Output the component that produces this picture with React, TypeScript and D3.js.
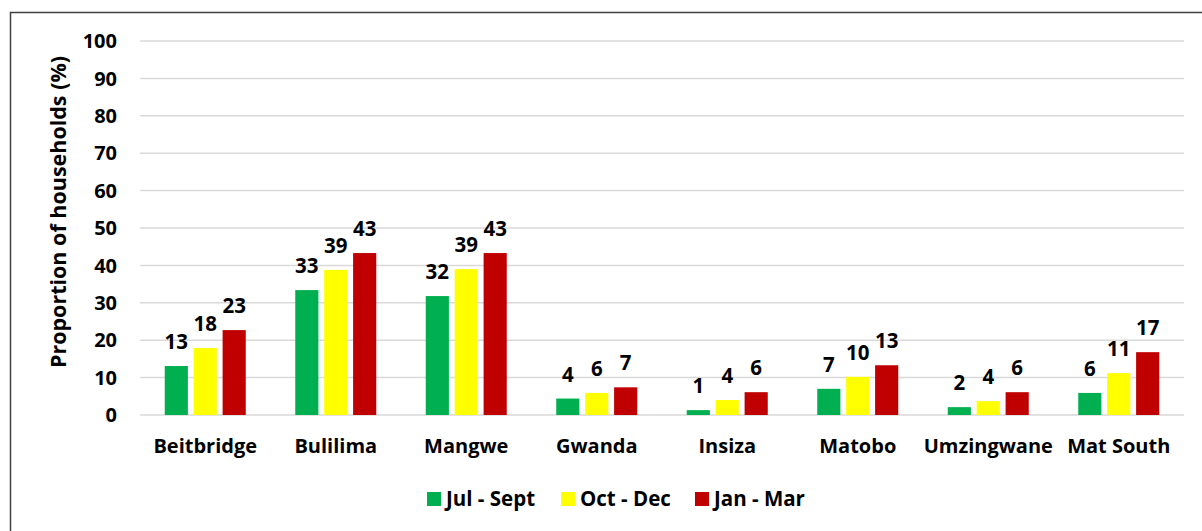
import React, { useEffect, useRef } from 'react';
import * as d3 from 'd3';

const categories = ['Beitbridge', 'Bulilima', 'Mangwe', 'Gwanda', 'Insiza', 'Matobo', 'Umzingwane', 'Mat South'];
const seriesNames = ['Jul - Sept', 'Oct - Dec', 'Jan - Mar'];
const julSept = [13.1, 33.4, 31.8, 4.4, 1.3, 7.0, 2.1, 5.9];
const octDec = [17.9, 38.8, 39.0, 5.9, 4.0, 10.2, 3.7, 11.2];
const janMar = [22.7, 43.3, 43.3, 7.4, 6.1, 13.3, 6.1, 16.8];
const yTicks = [0, 10, 20, 30, 40, 50, 60, 70, 80, 90, 100];
const colors = ['#00B050', '#FFFF00', '#C00000'];

const FONT = '"Open Sans", Lato, sans-serif';

const App = () => {
  const svgRef = useRef<SVGSVGElement>(null);

  useEffect(() => {
    const svg = d3.select(svgRef.current);
    svg.selectAll('*').remove();

    const width = 1202;
    const height = 531;
    const m = { left: 140, right: 18, top: 41, bottom: 116 };

    svg.append('rect')
      .attr('width', width).attr('height', height).attr('fill', '#fff');
    svg.append('rect')
      .attr('x', 10.5).attr('y', 12.5)
      .attr('width', width).attr('height', height)
      .attr('fill', 'none').attr('stroke', '#404040').attr('stroke-width', 1.5);

    const y = d3.scaleLinear().domain([0, 100]).range([height - m.bottom, m.top]);
    const x0 = d3.scaleBand().domain(categories).range([m.left, width - m.right]).paddingInner(0);
    const x1 = d3.scaleBand().domain(seriesNames).range([-40.5, 40.5]).paddingInner(0.2);

    const data = seriesNames.map((s, i) => ({ name: s, values: [julSept, octDec, janMar][i], color: colors[i] }));

    // gridlines
    svg.append('g').selectAll('line').data(yTicks).enter().append('line')
      .attr('x1', m.left).attr('x2', width - m.right)
      .attr('y1', d => y(d)).attr('y2', d => y(d))
      .attr('stroke', '#d9d9d9').attr('stroke-width', 1.5);

    // y tick labels
    svg.append('g').selectAll('text').data(yTicks).enter().append('text')
      .attr('x', 117).attr('y', d => y(d))
      .attr('dy', '0.36em')
      .attr('text-anchor', 'end')
      .attr('font-family', FONT).attr('font-weight', 'bold').attr('font-size', 20)
      .attr('fill', '#000')
      .text(d => d);

    // y title
    svg.append('text')
      .attr('transform', `translate(66,212) rotate(-90)`)
      .attr('text-anchor', 'middle')
      .attr('font-family', FONT).attr('font-weight', 'bold').attr('font-size', 21.5)
      .attr('fill', '#000')
      .text('Proportion of households (%)');

    // bars
    data.forEach(s => {
      const g = svg.append('g');
      g.selectAll('rect').data(s.values).enter().append('rect')
        .attr('x', (d, i) => x0(categories[i])! + x0.bandwidth() / 2 + x1(s.name)!)
        .attr('y', d => y(d))
        .attr('width', x1.bandwidth())
        .attr('height', d => y(0) - y(d))
        .attr('fill', s.color);
      g.selectAll('text').data(s.values).enter().append('text')
        .attr('x', (d, i) => x0(categories[i])! + x0.bandwidth() / 2 + x1(s.name)! + x1.bandwidth() / 2)
        .attr('y', d => y(d) - 17)
        .attr('text-anchor', 'middle')
        .attr('font-family', FONT).attr('font-weight', 'bold').attr('font-size', 20.5)
        .attr('fill', '#000')
        .text(d => Math.round(d));
    });

    // category labels
    svg.append('g').selectAll('text').data(categories).enter().append('text')
      .attr('x', d => x0(d)! + x0.bandwidth() / 2)
      .attr('y', 453)
      .attr('text-anchor', 'middle')
      .attr('font-family', FONT).attr('font-weight', 'bold').attr('font-size', 20)
      .attr('fill', '#000')
      .text(d => d);

    // legend
    const legendX = [427, 561, 695];
    const legend = svg.append('g');
    data.forEach((s, i) => {
      legend.append('rect')
        .attr('x', legendX[i]).attr('y', 492)
        .attr('width', 14).attr('height', 14)
        .attr('fill', s.color);
      legend.append('text')
        .attr('x', legendX[i] + 19).attr('y', 499)
        .attr('dy', '0.36em')
        .attr('font-family', FONT).attr('font-weight', 'bold').attr('font-size', 20.5)
        .attr('fill', '#000')
        .text(s.name);
    });
  }, []);

  return (
    <svg ref={svgRef} width={1202} height={531} style={{ position: 'absolute', left: 0, top: 0 }}></svg>
  );
};

export default App;
